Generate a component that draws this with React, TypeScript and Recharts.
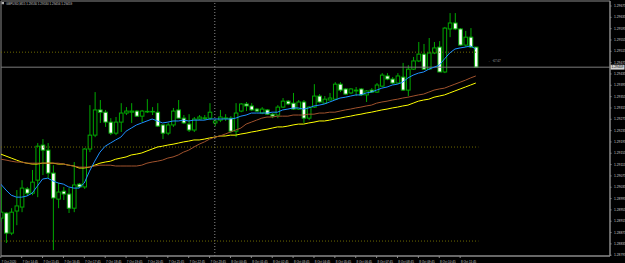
import React from 'react';
import {
  ComposedChart, Bar, Line, XAxis, YAxis, ReferenceLine, ReferenceArea, ReferenceDot, Customized,
} from 'recharts';

// ---- OHLC data (GBPUSD M15) ----
const opens = [
  1.28926, 1.28944, 1.28873, 1.28951, 1.28965, 1.29029, 1.29014, 1.29060, 1.29184, 1.29166,
  1.29085, 1.28993, 1.29021, 1.29011, 1.28961, 1.29046, 1.29036, 1.29170, 1.29219, 1.29308,
  1.29300, 1.29265, 1.29226, 1.29265, 1.29297, 1.29300, 1.29304, 1.29286, 1.29302, 1.29302,
  1.29300, 1.29255, 1.29226, 1.29255, 1.29308, 1.29279, 1.29258, 1.29237, 1.29276, 1.29279,
  1.29279, 1.29262, 1.29272, 1.29279, 1.29279, 1.29233, 1.29304, 1.29329, 1.29322, 1.29311,
  1.29297, 1.29308, 1.29293, 1.29290, 1.29318, 1.29339, 1.29332, 1.29311, 1.29336, 1.29279,
  1.29318, 1.29357, 1.29332, 1.29343, 1.29346, 1.29399, 1.29382, 1.29368, 1.29375, 1.29382,
  1.29361, 1.29378, 1.29371, 1.29392, 1.29428, 1.29417, 1.29403, 1.29424, 1.29378, 1.29452,
  1.29481, 1.29505, 1.29452, 1.29509, 1.29530, 1.29442, 1.29594, 1.29615, 1.29594, 1.29537,
  1.29565, 1.29530,
];
const highs = [
  1.29036, 1.28947, 1.28961, 1.29025, 1.29060, 1.29036, 1.29096, 1.29191, 1.29205, 1.29191,
  1.29113, 1.29050, 1.29036, 1.29032, 1.29124, 1.29050, 1.29173, 1.29325, 1.29371, 1.29343,
  1.29308, 1.29279, 1.29283, 1.29332, 1.29318, 1.29332, 1.29308, 1.29308, 1.29346, 1.29318,
  1.29332, 1.29255, 1.29262, 1.29315, 1.29343, 1.29290, 1.29293, 1.29283, 1.29290, 1.29290,
  1.29332, 1.29276, 1.29308, 1.29293, 1.29286, 1.29332, 1.29332, 1.29336, 1.29332, 1.29315,
  1.29318, 1.29311, 1.29297, 1.29325, 1.29350, 1.29343, 1.29368, 1.29343, 1.29343, 1.29322,
  1.29399, 1.29364, 1.29357, 1.29368, 1.29406, 1.29406, 1.29385, 1.29385, 1.29389, 1.29385,
  1.29378, 1.29385, 1.29403, 1.29438, 1.29438, 1.29424, 1.29438, 1.29474, 1.29466, 1.29495,
  1.29548, 1.29541, 1.29562, 1.29548, 1.29551, 1.29601, 1.29650, 1.29650, 1.29597, 1.29587,
  1.29597, 1.29530,
];
const lows = [
  1.28912, 1.28838, 1.28866, 1.28901, 1.28947, 1.29004, 1.29007, 1.29000, 1.29078, 1.29067,
  1.28813, 1.28961, 1.28990, 1.28944, 1.28947, 1.29032, 1.29029, 1.29159, 1.29212, 1.29262,
  1.29248, 1.29219, 1.29219, 1.29230, 1.29290, 1.29262, 1.29283, 1.29265, 1.29297, 1.29290,
  1.29248, 1.29205, 1.29219, 1.29248, 1.29279, 1.29258, 1.29230, 1.29230, 1.29272, 1.29272,
  1.29272, 1.29251, 1.29265, 1.29269, 1.29226, 1.29212, 1.29300, 1.29304, 1.29304, 1.29300,
  1.29293, 1.29290, 1.29279, 1.29279, 1.29315, 1.29325, 1.29308, 1.29308, 1.29262, 1.29272,
  1.29315, 1.29332, 1.29329, 1.29343, 1.29343, 1.29371, 1.29361, 1.29364, 1.29357, 1.29357,
  1.29336, 1.29368, 1.29368, 1.29389, 1.29413, 1.29399, 1.29399, 1.29375, 1.29357, 1.29449,
  1.29477, 1.29449, 1.29449, 1.29505, 1.29442, 1.29438, 1.29565, 1.29590, 1.29534, 1.29530,
  1.29527, 1.29456,
];
const closes = [
  1.28947, 1.28873, 1.28947, 1.28969, 1.29032, 1.29014, 1.29053, 1.29180, 1.29166, 1.29085,
  1.28997, 1.29018, 1.29011, 1.28961, 1.29043, 1.29036, 1.29170, 1.29219, 1.29308, 1.29300,
  1.29265, 1.29226, 1.29265, 1.29297, 1.29304, 1.29304, 1.29286, 1.29304, 1.29303, 1.29303,
  1.29251, 1.29226, 1.29255, 1.29304, 1.29279, 1.29262, 1.29237, 1.29276, 1.29283, 1.29280,
  1.29300, 1.29269, 1.29283, 1.29280, 1.29233, 1.29297, 1.29329, 1.29322, 1.29308, 1.29304,
  1.29311, 1.29293, 1.29286, 1.29318, 1.29339, 1.29329, 1.29311, 1.29336, 1.29279, 1.29318,
  1.29357, 1.29336, 1.29346, 1.29350, 1.29399, 1.29378, 1.29364, 1.29382, 1.29378, 1.29361,
  1.29375, 1.29371, 1.29396, 1.29431, 1.29417, 1.29403, 1.29428, 1.29378, 1.29452, 1.29481,
  1.29505, 1.29452, 1.29509, 1.29527, 1.29442, 1.29597, 1.29615, 1.29594, 1.29537, 1.29565,
  1.29530, 1.29459,
];

// ---- Moving averages ----
const maFast = [
  1.29046, 1.29025, 1.29007, 1.29000, 1.29000, 1.29004, 1.29014, 1.29039, 1.29064, 1.29067,
  1.29057, 1.29050, 1.29046, 1.29036, 1.29032, 1.29032, 1.29050, 1.29092, 1.29127, 1.29159,
  1.29180, 1.29191, 1.29202, 1.29212, 1.29233, 1.29244, 1.29255, 1.29262, 1.29269, 1.29276,
  1.29269, 1.29262, 1.29265, 1.29269, 1.29269, 1.29272, 1.29269, 1.29272, 1.29272, 1.29272,
  1.29276, 1.29276, 1.29276, 1.29276, 1.29276, 1.29279, 1.29286, 1.29290, 1.29297, 1.29297,
  1.29297, 1.29297, 1.29300, 1.29300, 1.29308, 1.29311, 1.29315, 1.29315, 1.29311, 1.29315,
  1.29322, 1.29325, 1.29329, 1.29336, 1.29343, 1.29350, 1.29353, 1.29357, 1.29361, 1.29361,
  1.29368, 1.29371, 1.29378, 1.29385, 1.29389, 1.29396, 1.29399, 1.29406, 1.29421, 1.29431,
  1.29438, 1.29442, 1.29452, 1.29459, 1.29466, 1.29488, 1.29509, 1.29523, 1.29527, 1.29530,
  1.29534, 1.29523,
];
const maMid = [
  1.29134, 1.29131, 1.29127, 1.29124, 1.29124, 1.29120, 1.29120, 1.29120, 1.29120, 1.29120,
  1.29120, 1.29120, 1.29117, 1.29113, 1.29110, 1.29106, 1.29106, 1.29106, 1.29110, 1.29113,
  1.29113, 1.29113, 1.29110, 1.29110, 1.29110, 1.29110, 1.29110, 1.29113, 1.29120, 1.29124,
  1.29127, 1.29131, 1.29138, 1.29142, 1.29149, 1.29159, 1.29166, 1.29177, 1.29187, 1.29195,
  1.29205, 1.29212, 1.29216, 1.29223, 1.29230, 1.29237, 1.29244, 1.29258, 1.29265, 1.29272,
  1.29279, 1.29283, 1.29283, 1.29286, 1.29286, 1.29286, 1.29290, 1.29290, 1.29290, 1.29293,
  1.29293, 1.29297, 1.29297, 1.29300, 1.29300, 1.29304, 1.29308, 1.29311, 1.29315, 1.29318,
  1.29322, 1.29325, 1.29332, 1.29336, 1.29339, 1.29343, 1.29346, 1.29350, 1.29353, 1.29357,
  1.29361, 1.29364, 1.29371, 1.29378, 1.29382, 1.29385, 1.29392, 1.29399, 1.29406, 1.29413,
  1.29421, 1.29428,
];
const maSlow = [
  1.29152, 1.29145, 1.29138, 1.29131, 1.29124, 1.29120, 1.29117, 1.29117, 1.29120, 1.29120,
  1.29120, 1.29117, 1.29117, 1.29113, 1.29110, 1.29103, 1.29103, 1.29106, 1.29113, 1.29120,
  1.29124, 1.29127, 1.29134, 1.29138, 1.29142, 1.29149, 1.29152, 1.29156, 1.29163, 1.29170,
  1.29177, 1.29180, 1.29184, 1.29187, 1.29191, 1.29195, 1.29198, 1.29202, 1.29202, 1.29205,
  1.29209, 1.29212, 1.29216, 1.29216, 1.29219, 1.29219, 1.29223, 1.29226, 1.29230, 1.29233,
  1.29237, 1.29240, 1.29244, 1.29248, 1.29248, 1.29251, 1.29255, 1.29258, 1.29258, 1.29262,
  1.29265, 1.29269, 1.29269, 1.29272, 1.29276, 1.29279, 1.29283, 1.29286, 1.29290, 1.29293,
  1.29297, 1.29300, 1.29304, 1.29308, 1.29311, 1.29315, 1.29318, 1.29322, 1.29325, 1.29332,
  1.29339, 1.29343, 1.29346, 1.29353, 1.29357, 1.29361, 1.29368, 1.29375, 1.29382, 1.29389,
  1.29396, 1.29403,
];

// ---- Axis labels ----
const timeLabels = [
  '7 Oct 2020', '7 Oct 14:45', '7 Oct 15:45', '7 Oct 16:45', '7 Oct 17:45', '7 Oct 18:45',
  '7 Oct 19:45', '7 Oct 20:45', '7 Oct 21:45', '7 Oct 22:45', '7 Oct 23:45', '8 Oct 00:45',
  '8 Oct 01:45', '8 Oct 02:45', '8 Oct 03:45', '8 Oct 04:45', '8 Oct 05:45', '8 Oct 06:45',
  '8 Oct 07:45', '8 Oct 08:45', '8 Oct 09:45', '8 Oct 10:45', '8 Oct 11:45',
];
const timeLabelBars = [0, 4, 8, 12, 16, 20, 24, 28, 32, 36, 40, 44, 48, 52, 56, 60, 64, 68, 72, 76, 80, 84, 88];
const priceTicks = [
  1.28795, 1.28835, 1.28875, 1.28915, 1.28955, 1.28995, 1.29035, 1.29075, 1.29115, 1.29155,
  1.29195, 1.29235, 1.29275, 1.29315, 1.29355, 1.29395, 1.29435, 1.29475, 1.29515, 1.29555,
  1.29595, 1.29635, 1.29675,
];
const pivotLevels = [1.29512, 1.29177, 1.28845];
const daySeparatorBar = 41;
const bidPrice = 1.29459;
const symbolTitle = 'GBPUSD,M15';
const tradeText = '\u2190 -67.67';
const tradeTextPos = { bar: 92.4, price: 1.29481 };

const X_MIN = 0.04;
const X_MAX = 116.71;
const Y_MIN = 1.287922;
const Y_MAX = 1.296927;

const GREEN = '#00a800';
const AXIS = '#8a8a8a';
const TEXT = '#c8c8c8';

const rows = opens.map((o, i) => ({
  i,
  o,
  h: highs[i],
  l: lows[i],
  c: closes[i],
  range: [lows[i], highs[i]],
  fast: maFast[i],
  mid: maMid[i],
  slow: maSlow[i],
}));

const Candle = (props: any) => {
  const { x, y, width, height, payload } = props;
  if (x == null || payload == null) return null;
  let top = y;
  let h = height;
  if (h < 0) { top = y + h; h = -h; }
  const cx = x + width / 2;
  const span = payload.h - payload.l;
  const k = span > 0 ? h / span : 0;
  const yO = top + (payload.h - payload.o) * k;
  const yC = top + (payload.h - payload.c) * k;
  const bTop = Math.min(yO, yC);
  const bH = Math.max(Math.abs(yO - yC), 0.6);
  const bull = payload.c >= payload.o;
  return (
    <g>
      <line x1={cx} x2={cx} y1={top} y2={top + h} stroke={GREEN} strokeWidth={1} />
      <rect x={cx - 1.8} y={bTop} width={3.6} height={bH} fill={bull ? '#000' : '#ffffff'} stroke={GREEN} strokeWidth={1} />
    </g>
  );
};

const XTick = (props: any) => {
  const { x, y, payload } = props;
  const idx = timeLabelBars.indexOf(payload.value);
  return (
    <text x={x + 0.8} y={y + 2.6} fontSize={3} fill={TEXT} textAnchor="start" fontFamily="Liberation Sans, Arial, sans-serif">
      {idx >= 0 ? timeLabels[idx] : ''}
    </text>
  );
};

const YTick = (props: any) => {
  const { x, y, payload } = props;
  return (
    <text x={x + 0.5} y={y + 1.1} fontSize={3.3} fill={TEXT} textAnchor="start" fontFamily="Liberation Sans, Arial, sans-serif">
      {payload.value.toFixed(5)}
    </text>
  );
};

const BidLabel = (props: any) => {
  const vb = props.viewBox || {};
  const x = (vb.x || 0) + (vb.width || 0);
  const y = vb.y || 0;
  return (
    <g>
      <rect x={x + 0.5} y={y - 2.4} width={14} height={4.8} fill="#d0d0d0" />
      <text x={x + 1.5} y={y + 1.1} fontSize={3.3} fill="#000" fontFamily="Liberation Sans, Arial, sans-serif">
        {bidPrice.toFixed(5)}
      </text>
    </g>
  );
};

const Header = () => {
  const last = rows[rows.length - 1];
  return (
    <g>
      <rect x={1.5} y={2} width={2.5} height={2.2} fill="#b0b0b0" />
      <text x={6} y={4.6} fontSize={3} fill={TEXT} fontFamily="Liberation Sans, Arial, sans-serif">
        {`${symbolTitle}  ${last.o.toFixed(5)} ${last.h.toFixed(5)} ${last.l.toFixed(5)} ${last.c.toFixed(5)}`}
      </text>
    </g>
  );
};

export default function App() {
  return (
    <div style={{ position: 'absolute', left: 0, top: 0, width: 625, height: 263, background: '#000', overflow: 'hidden' }}>
      <ComposedChart width={625} height={263} data={rows} margin={{ top: 1, right: 0, bottom: 0, left: 1 }}>
        <XAxis
          dataKey="i"
          type="number"
          domain={[X_MIN, X_MAX]}
          allowDataOverflow
          ticks={timeLabelBars}
          interval={0}
          height={7}
          tick={<XTick />}
          tickSize={2}
          tickLine={{ stroke: AXIS }}
          axisLine={{ stroke: AXIS }}
        />
        <YAxis
          orientation="right"
          type="number"
          domain={[Y_MIN, Y_MAX]}
          allowDataOverflow
          ticks={priceTicks}
          interval={0}
          width={15}
          tick={<YTick />}
          tickSize={1.5}
          tickLine={{ stroke: AXIS }}
          axisLine={{ stroke: AXIS }}
        />
        <ReferenceArea x1={X_MIN} x2={X_MAX} y1={Y_MIN} y2={Y_MAX} fill="none" stroke={AXIS} strokeWidth={1} />
        <ReferenceLine x={daySeparatorBar} stroke="#8a8a8a" strokeDasharray="1 2" />
        {pivotLevels.map((p) => (
          <ReferenceLine key={p} segment={[{ x: X_MIN, y: p }, { x: rows.length - 0.5, y: p }]} stroke="#6e6a00" strokeDasharray="1 2" />
        ))}
        <ReferenceLine y={bidPrice} stroke="#7c7c7c" strokeWidth={1} label={<BidLabel />} />
        <Bar dataKey="range" barSize={4} shape={<Candle />} isAnimationActive={false} />
        <Line dataKey="slow" stroke="#ffff00" strokeWidth={1} dot={false} isAnimationActive={false} />
        <Line dataKey="mid" stroke="#a0522d" strokeWidth={1} dot={false} isAnimationActive={false} />
        <Line dataKey="fast" stroke="#1e90ff" strokeWidth={1} dot={false} isAnimationActive={false} />
        <ReferenceDot x={tradeTextPos.bar} y={tradeTextPos.price} r={0} label={{ value: tradeText, position: 'right', fontSize: 3.3, fill: '#a8a8a8' }} />
        <Customized component={<Header />} />
      </ComposedChart>
    </div>
  );
}
